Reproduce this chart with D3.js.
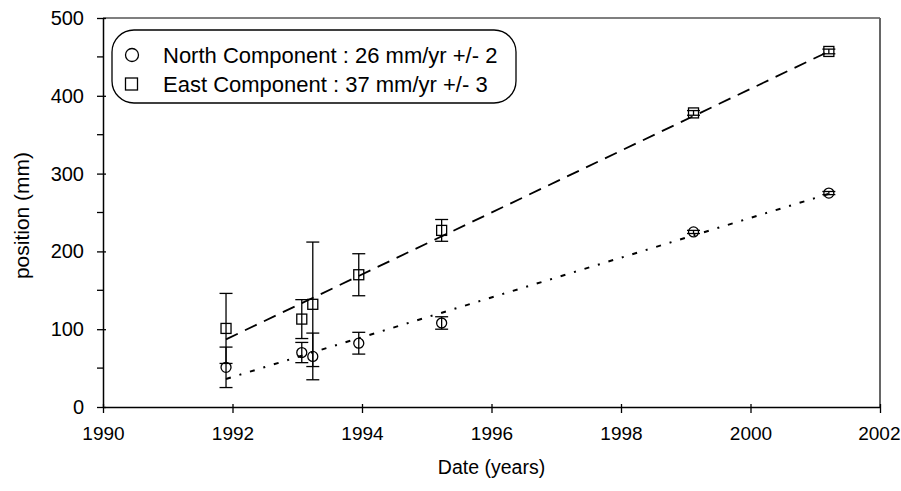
<!DOCTYPE html>
<html>
<head>
<meta charset="utf-8">
<script src="https://cdn.jsdelivr.net/npm/d3@7"></script>
<style>
  html, body { margin: 0; padding: 0; background: #fff; }
  svg { display: block; font-family: "Liberation Sans", Arial, sans-serif; }
</style>
</head>
<body>
<svg id="chart" width="901" height="491"></svg>
<script>
// ---- data ----
const years     = [1991.9, 1993.07, 1993.24, 1993.95, 1995.23, 1999.12, 2001.21];
const northPos  = [51, 70, 65, 82, 108, 225, 275];
const northErr  = [26, 13, 30, 14, 8, 2, 2];
const eastPos   = [101, 113, 132, 170, 227, 378, 457];
const eastErr   = [45, 25, 80, 27, 14, 3, 3];
const northFitYears = [1991.9, 2001.21];
const northFitPos   = [36, 274];
const eastFitYears  = [1991.9, 2001.21];
const eastFitPos    = [87, 457];
const xTicks = [1990, 1992, 1994, 1996, 1998, 2000, 2002];
const yTicks = [0, 100, 200, 300, 400, 500];
const yMinorTicks = [50, 150, 250, 350, 450];
const legendLabels = ["North Component : 26 mm/yr +/- 2", "East Component : 37 mm/yr +/- 3"];
const xTitle = "Date (years)";
const yTitle = "position (mm)";

// ---- layout ----
const svg = d3.select("#chart");
const x = d3.scaleLinear().domain([1990, 2002]).range([103, 880]);
const y = d3.scaleLinear().domain([0, 500]).range([407, 18]);

// frame (top and right)
svg.append("line").attr("x1", x(1990)).attr("x2", x(2002)).attr("y1", y(500)).attr("y2", y(500))
  .attr("stroke", "#000").attr("stroke-width", 1.2);
svg.append("line").attr("x1", x(2002)).attr("x2", x(2002)).attr("y1", y(500)).attr("y2", y(0))
  .attr("stroke", "#666").attr("stroke-width", 2);

// x axis
const gx = svg.append("g").attr("transform", `translate(0,${y(0)})`)
  .call(d3.axisBottom(x).tickValues(xTicks).tickFormat(d3.format("d")).tickSizeInner(6).tickSizeOuter(0).tickPadding(14));
gx.select(".domain").attr("stroke", "#000").attr("stroke-width", 1.5);
gx.selectAll(".tick line").attr("y1", -3).attr("stroke-width", 1.3);
gx.selectAll(".tick text").attr("font-size", 19).attr("fill", "#000")
  .attr("font-family", "Liberation Sans, Arial, sans-serif")
  .attr("text-anchor", d => d === 2002 ? "end" : "middle")
  .attr("dx", d => d === 2002 ? 20 : 0);

// y axis
const gy = svg.append("g").attr("transform", `translate(${x(1990)},0)`)
  .call(d3.axisLeft(y).tickValues(yTicks).tickSizeInner(6).tickSizeOuter(0).tickPadding(13));
gy.select(".domain").attr("stroke", "#000").attr("stroke-width", 1.5);
gy.selectAll(".tick line").attr("x1", 3).attr("stroke-width", 1.3);
gy.selectAll(".tick text").attr("font-size", 20).attr("fill", "#000")
  .attr("font-family", "Liberation Sans, Arial, sans-serif");
gy.selectAll(".minor").data(yMinorTicks).enter().append("line")
  .attr("class", "minor")
  .attr("x1", -6).attr("x2", 0)
  .attr("y1", d => y(d)).attr("y2", d => y(d))
  .attr("stroke", "#000").attr("stroke-width", 1.3);

// axis titles
svg.append("text").attr("x", (x(1990) + x(2002)) / 2).attr("y", 474)
  .attr("text-anchor", "middle").attr("font-size", 19.5).text(xTitle);
svg.append("text").attr("transform", `translate(29,${(y(0) + y(500)) / 2 + 3}) rotate(-90)`)
  .attr("text-anchor", "middle").attr("font-size", 21).text(yTitle);

// fit lines
const line = d3.line().x(d => x(d[0])).y(d => y(d[1]));
svg.append("path").datum(eastFitYears.map((v, i) => [v, eastFitPos[i]]))
  .attr("d", line).attr("fill", "none").attr("stroke", "#000").attr("stroke-width", 1.8)
  .attr("stroke-dasharray", "13,8");
svg.append("path").datum(northFitYears.map((v, i) => [v, northFitPos[i]]))
  .attr("d", line).attr("fill", "none").attr("stroke", "#000").attr("stroke-width", 2)
  .attr("stroke-dasharray", "5,9,2,9");

// error bars
function errorBars(vals, errs) {
  const g = svg.append("g").attr("stroke", "#000").attr("stroke-width", 1.3);
  years.forEach((yr, i) => {
    const cx = x(yr), top = y(vals[i] + errs[i]), bot = y(vals[i] - errs[i]);
    g.append("line").attr("x1", cx).attr("x2", cx).attr("y1", top).attr("y2", bot);
    g.append("line").attr("x1", cx - 6.5).attr("x2", cx + 6.5).attr("y1", top).attr("y2", top);
    g.append("line").attr("x1", cx - 6.5).attr("x2", cx + 6.5).attr("y1", bot).attr("y2", bot);
  });
}
errorBars(eastPos, eastErr);
errorBars(northPos, northErr);

// markers
svg.append("g").selectAll("rect").data(years).enter().append("rect")
  .attr("x", (d) => x(d) - 5).attr("y", (d, i) => y(eastPos[i]) - 5)
  .attr("width", 10).attr("height", 10)
  .attr("fill", "none").attr("stroke", "#000").attr("stroke-width", 1.3);
svg.append("g").selectAll("circle").data(years).enter().append("circle")
  .attr("cx", (d) => x(d)).attr("cy", (d, i) => y(northPos[i]))
  .attr("r", 5)
  .attr("fill", "none").attr("stroke", "#000").attr("stroke-width", 1.3);

// legend
const lg = svg.append("g");
lg.append("rect").attr("x", 112).attr("y", 30).attr("width", 404).attr("height", 73)
  .attr("rx", 22).attr("ry", 22).attr("fill", "#fff").attr("stroke", "#000").attr("stroke-width", 1.3);
lg.append("circle").attr("cx", 132).attr("cy", 55).attr("r", 6.5)
  .attr("fill", "none").attr("stroke", "#000").attr("stroke-width", 1.3);
lg.append("rect").attr("x", 125.5).attr("y", 78).attr("width", 12).attr("height", 12)
  .attr("fill", "none").attr("stroke", "#000").attr("stroke-width", 1.3);
lg.selectAll("text.leg").data(legendLabels).enter().append("text")
  .attr("class", "leg").attr("x", 163).attr("y", (d, i) => 63 + i * 29)
  .attr("font-size", 22).attr("fill", "#000").text(d => d);
</script>
</body>
</html>
